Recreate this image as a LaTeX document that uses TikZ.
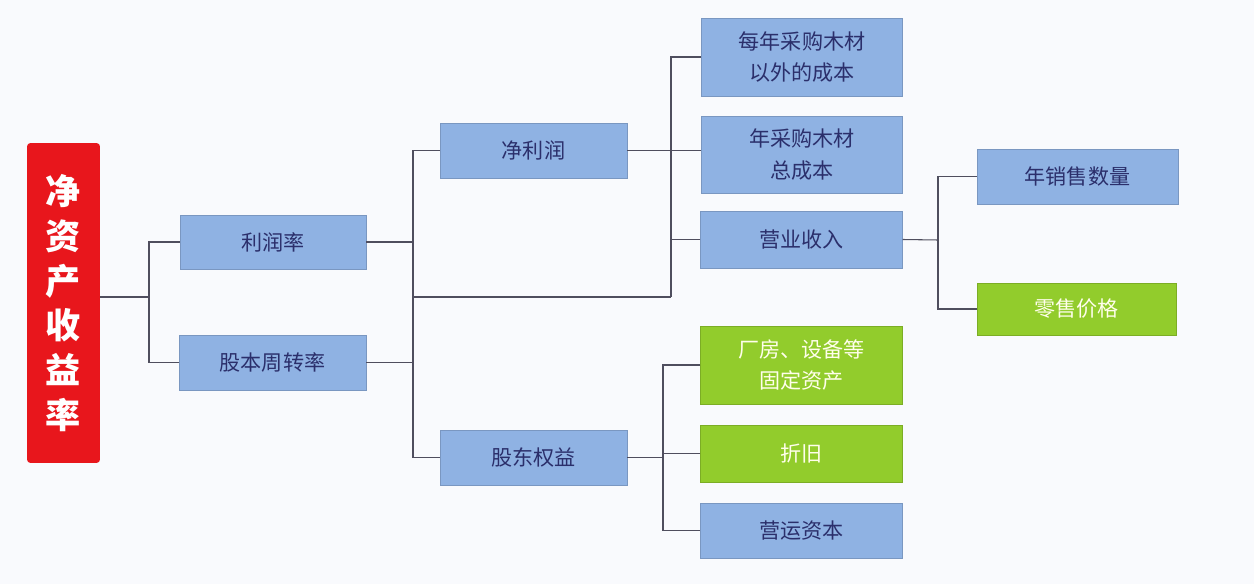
\documentclass[tikz,border=0pt]{standalone}
\usepackage{fontspec}
\setmainfont{Noto Sans CJK SC}
\usepackage{xcolor}

\definecolor{bgcol}{HTML}{F9FAFD}
\definecolor{boxblue}{HTML}{8FB2E3}
\definecolor{boxgreen}{HTML}{92CC2C}
\definecolor{boxred}{HTML}{E8161C}
\definecolor{txtblue}{HTML}{2B2F6B}
\definecolor{linecol}{HTML}{4F4E5E}

\tikzset{
    box/.style={draw=boxblue!85!black, line width=0.4pt, fill=boxblue, text=txtblue,
        minimum width=3.74cm, minimum height=1.1cm, inner sep=0pt, align=center,
        font=\fontsize{12}{18}\selectfont},
    widebox/.style={box, minimum width=4.03cm},
    greenbox/.style={widebox, fill=boxgreen, draw=boxgreen!85!black, text=white!92!yellow},
    link/.style={draw=linecol, line width=0.6pt}
}

\begin{document}
\begin{tikzpicture}[x=0.02cm, y=-0.02cm]
    \fill[bgcol] (0, 0) rectangle (1254, 584);
    \useasboundingbox (0, 0) rectangle (1254, 584);

    % Root
    \node[fill=boxred, rounded corners=2pt, text=white, minimum width=1.46cm,
        minimum height=6.4cm, inner sep=0pt, align=center,
        font=\fontsize{20}{25.5}\selectfont\bfseries] (roe) at (63.5, 303)
        {净\\资\\产\\收\\益\\率};

    % Level 1
    \node[box, minimum width=3.72cm, minimum height=1.08cm] (margin) at (273, 242) {利润率};
    \node[box] (turnover) at (272.5, 362.5) {股本周转率};

    % Level 2
    \node[box] (netprofit) at (533.5, 150.5) {净利润};
    \node[box] (equity) at (533.5, 457.5) {股东权益};

    % Level 3
    \node[widebox, minimum height=1.56cm] (othercost) at (802, 57) {每年采购木材\\以外的成本};
    \node[widebox, minimum height=1.54cm] (woodcost) at (802, 154.5) {年采购木材\\总成本};
    \node[widebox, minimum height=1.14cm] (revenue) at (801.5, 239.5) {营业收入};
    \node[greenbox, minimum height=1.56cm] (plant) at (801.5, 365) {厂房、设备等\\固定资产};
    \node[greenbox, minimum height=1.14cm] (deprec) at (801.5, 453.5) {折旧};
    \node[widebox] (workcap) at (801.5, 530.5) {营运资本};

    % Level 4
    \node[widebox, minimum width=4.02cm] (volume) at (1077.5, 176.5) {年销售数量};
    \node[greenbox, minimum width=3.98cm, minimum height=1.04cm] (price) at (1076.5, 309) {零售价格};

    % Junctions
    \coordinate (j1) at (149, 297);
    \coordinate (j2) at (413, 297);
    \coordinate (j3) at (671, 297);
    \coordinate (j4) at (663, 453);
    \coordinate (j5) at (938, 240);

    % Connectors
    \draw[link] (roe.east |- j1) -- (j1);
    \draw[link] (margin.west) -| (j1) |- (turnover.west);

    \draw[link] (margin.east) -- (margin.east -| j2);
    \draw[link] (turnover.east) -- (turnover.east -| j2);
    \draw[link] (netprofit.west) -| (j2) |- (equity.west);
    \draw[link] (j2) -- (j3);

    \draw[link] (othercost.west) -| (j3);
    \draw[link] (netprofit.east) -- (netprofit.east -| woodcost.west);
    \draw[link] (revenue.west) -- (revenue.west -| j3);

    \draw[link] (equity.east) -- (equity.east -| j4);
    \draw[link] (plant.west) -| (j4) |- (workcap.west);
    \draw[link] (deprec.west) -- (deprec.west -| j4);

    \draw[link] (revenue.east) -- (j5);
    \draw[link] (volume.west) -| (j5) |- (price.west);
\end{tikzpicture}
\end{document}
